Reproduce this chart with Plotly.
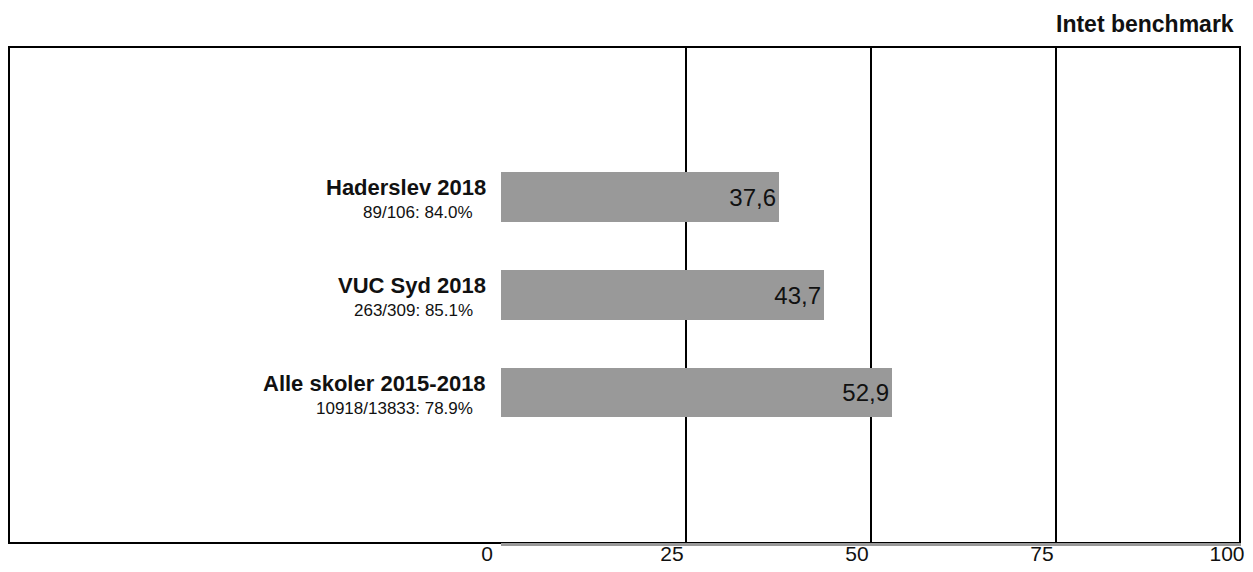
import plotly.graph_objects as go

categories = ["Haderslev 2018", "VUC Syd 2018", "Alle skoler 2015-2018"]
sub_labels = ["89/106: 84.0%", "263/309: 85.1%", "10918/13833: 78.9%"]
values = [37.6, 43.7, 52.9]
value_labels = ["37,6", "43,7", "52,9"]
tick_vals = [0, 25, 50, 75, 100]
tick_text = ["0", "25", "50", "75", "100"]
title_text = "Intet benchmark"

FONT = "Liberation Sans, Arial, sans-serif"

fig = go.Figure()
fig.add_trace(go.Bar(
    x=values,
    y=categories,
    orientation="h",
    marker=dict(color="#999999", line=dict(width=0)),
    width=0.51,
    text=value_labels,
    textposition="inside",
    insidetextanchor="end",
    textfont=dict(family=FONT, size=24, color="#111111"),
    hoverinfo="skip",
))

annotations = []
for cat, sub in zip(categories, sub_labels):
    annotations.append(dict(
        x=0, xref="paper", y=cat, yref="y",
        text="<b>" + cat + "</b>", showarrow=False,
        xanchor="right", yanchor="middle", xshift=-13.5, yshift=9,
        font=dict(family=FONT, size=22, color="#111111"),
    ))
    annotations.append(dict(
        x=0, xref="paper", y=cat, yref="y",
        text=sub, showarrow=False,
        xanchor="right", yanchor="middle", xshift=-26.5, yshift=-15.5,
        font=dict(family=FONT, size=17, color="#111111"),
    ))
annotations.append(dict(
    x=1, xref="paper", y=1, yref="paper",
    text="<b>" + title_text + "</b>", showarrow=False,
    xanchor="right", yanchor="middle", xshift=-5, yshift=23.5,
    font=dict(family=FONT, size=23, color="#111111"),
))

fig.update_layout(
    width=1237, height=556,
    margin=dict(l=493, r=4, t=39, b=21, pad=0, autoexpand=False),
    paper_bgcolor="white", plot_bgcolor="white",
    showlegend=False,
    bargap=0,
    annotations=annotations,
    shapes=[dict(
        type="rect", xref="paper", yref="paper",
        x0=-0.66486, x1=0.99865, y0=0, y1=1,
        line=dict(color="black", width=2), layer="below",
    )],
    xaxis=dict(
        range=[0, 100], tickvals=tick_vals, ticktext=tick_text,
        showgrid=True, gridcolor="black", gridwidth=2,
        zeroline=False, showline=True, linecolor="#999999", linewidth=3,
        ticks="", tickfont=dict(family=FONT, size=21, color="#111111"),
        ticklabelshift=-14, ticklabelstandoff=-10,
        ticklabeloverflow="allow", automargin=False,
        fixedrange=True,
    ),
    yaxis=dict(
        categoryorder="array", categoryarray=list(reversed(categories)),
        range=[-1.536, 3.526], showticklabels=False, showgrid=False,
        zeroline=False, showline=False, ticks="", fixedrange=True,
        automargin=False,
    ),
)

fig.write_html("out.html")
